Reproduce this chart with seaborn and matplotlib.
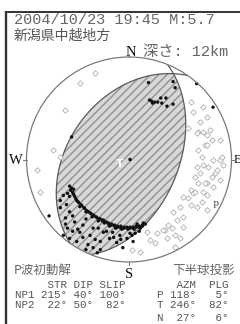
import matplotlib
matplotlib.use('Agg')
import matplotlib.pyplot as plt
from matplotlib.patches import Polygon, Circle
import numpy as np
import seaborn as sns

sns.set_style('white')
plt.rcParams['font.family'] = ['DejaVu Sans', 'Noto Sans CJK JP']
plt.rcParams['hatch.linewidth'] = 1.0

# 地震情報
date_text = "2004/10/23 19:45 M:5.7"
region_text = "新潟県中越地方"
depth_text = "深さ: 12km"

# 節面 (走向, 傾斜, すべり角)
plane_names = ['NP1', 'NP2']
plane_str = [215, 22]
plane_dip = [40, 50]
plane_slip = [100, 82]

# 主軸 (方位, 傾斜)
axis_names = ['P', 'T', 'N']
axis_azm = [118, 246, 27]
axis_plg = [5, 82, 6]

# 押し (黒) : 投影面上の位置 (半径 = 100)
push_e = [19, 45, 66, 82, 20, 22, 25, 23, 28, 31, 36, 37, 43, 32, 43, -56, -78, 1,
          -58, -56, -54, -55, -53, -51, -49, -46, -43, -40, -37, -34, -31, -28, -25,
          -22, -20, -17, -14, -11, -8, -5, -2, 1, 4, 7, 10, 13, 16,
          -48, -42, -36, -30, -24, -19, -13, -7, -1, 5, 11, -60, -58,
          -57, -54, -52, -50, -47, -44, -41, -38, -35, -32, -29, -26, -23, -20, -17,
          -14, -11, -8, -5, -2, 1, 4, 7, 10, 13,
          -67, -62, -58, -60, -53, -48, -45, -38, -35, -28, -25, -19, -16, -12, -9,
          -6, -2, 1, 4, -35, -40, -51, -64, -58, -31, -42, -28, 3, 8, 14,
          -67, -64, -61, -55, -50, -42, -30, -22, -15, -8, -33, -45, -55, -62, 6, 10]
push_n = [75, 70, 74, 51, 58, 57, 56, 55, 56, 60, 60, 52, 54, 55, 76, 22, -55, 0,
          -26, -28, -29, -32, -36, -40, -42, -45, -48, -51, -53, -55, -57, -58, -59,
          -61, -62, -63, -64, -65, -65, -66, -66, -66, -66, -65, -65, -64, -63,
          -46, -51, -56, -60, -62, -65, -67, -68, -68, -68, -67, -33, -36,
          -30, -34, -38, -41, -44, -47, -50, -52, -54, -56, -58, -60, -61, -63, -64,
          -65, -66, -67, -67, -67, -67, -67, -66, -66, -65,
          -47, -57, -51, -67, -61, -71, -64, -74, -67, -80, -71, -77, -71, -81, -74,
          -86, -77, -72, -80, -86, -83, -80, -74, -77, -91, -88, -88, -74, -63, -62,
          -40, -35, -44, -55, -68, -58, -67, -70, -76, -78, -78, -76, -70, -63, -72, -70]

# 引き (白) : 投影面上の位置 (半径 = 100)
pull_e = [67, 74, 71, 89, 92, 66, 72, 69, 64, 84, 67, 76, 60, 53, 58, 62, 76, 71,
          60, 66, 50, 43, 76, 53, 47, 38, 35, 42, 53, 45, 37, 27, 20, 25, 18, 50,
          60, 72, 62, 76, 69, 79, 76, 67, 81, 58, 89, 91, 82, 77, 86, 81, 89, 74,
          82, 64, 72, 66, 72, 76, -48, -33, -74, -67, -90, -87, -62, 45, 33, 3, 11]
pull_n = [9, 14, 2, 0, -5, -7, -5, -13, -17, -13, -23, -23, -30, -37, -38, -33, -35, -41,
          -44, -46, -46, -51, -49, -56, -59, -64, -69, -67, -66, -74, -77, -72, -79, -81, -71, -77,
          56, 51, 46, 41, 37, 29, 24, 27, 19, 31, 19, 2, 0, -7, -10, -17, -20, -23,
          -27, -32, -32, 26, 27, 14, 75, 84, 9, 2, -10, -32, 48, -85, -69, -88, -90]


def unit(az, pl):
    a, p = np.radians(az), np.radians(pl)
    return np.array([np.cos(p) * np.sin(a), np.cos(p) * np.cos(a), np.sin(p)])


def project(v):
    v = np.atleast_2d(v).astype(float)
    v = np.where(v[:, 2:3] < 0, -v, v)
    pl = np.arcsin(np.clip(v[:, 2], -1, 1))
    az = np.arctan2(v[:, 0], v[:, 1])
    r = 100 * np.sqrt(2) * np.sin((np.pi / 2 - pl) / 2)
    return r * np.sin(az), r * np.cos(az)


def plane_vecs(strike, dip):
    return unit(strike, 0), unit(strike + 90, dip)


def arc(strike, dip, t0, t1, n=150):
    s, d = plane_vecs(strike, dip)
    t = np.linspace(t0, t1, n)
    v = np.outer(np.cos(t), s) + np.outer(np.sin(t), d)
    return project(v)


fig = plt.figure(figsize=(2.4, 3.24), dpi=100)

# 枠と文字 (ピクセル座標)
bg = fig.add_axes([0, 0, 1, 1])
bg.set_xlim(0, 240)
bg.set_ylim(324, 0)
bg.axis('off')
bg.plot([6.2, 6.2], [11, 324], color='#333333', lw=1.7, solid_capstyle='butt')
bg.plot([5, 240], [11.8, 11.8], color='#333333', lw=1.4, solid_capstyle='butt')

gray = '#666666'
mono = ['Liberation Mono', 'Noto Sans CJK JP']
cjk = ['Noto Sans CJK JP', 'DejaVu Sans']
serif = ['Liberation Serif', 'DejaVu Serif']

bg.text(14, 20.5, date_text, family=mono, fontsize=11, color=gray, va='center')
bg.text(14, 35.5, region_text, family=cjk, fontsize=10, color='#555555', va='center')
bg.text(143, 52, depth_text, family=mono, fontsize=11, color=gray, va='center')
bg.text(131, 52, 'N', family=serif, fontsize=10.5, color='#111111', ha='center', va='center')
bg.text(16, 160, 'W', family=serif, fontsize=10.5, color='#111111', ha='center', va='center')
bg.text(233.5, 160, 'E', family=serif, fontsize=9, color='#111111', ha='left', va='center')
bg.text(129, 274, 'S', family=serif, fontsize=10.5, color='#111111', ha='center', va='center')
bg.text(14, 270, 'P波初動解', family=cjk, fontsize=9, color=gray, va='center')
bg.text(172, 270, '下半球投影', family=cjk, fontsize=9, color=gray, va='center')

left_rows = ['     STR DIP SLIP'] + [
    f"{nm} {s:3d}° {d:2d}° {r:3d}°"
    for nm, s, d, r in zip(plane_names, plane_str, plane_dip, plane_slip)]
right_rows = ['   AZM  PLG'] + [
    f"{nm} {a:3d}°  {p:2d}°" for nm, a, p in zip(axis_names, axis_azm, axis_plg)]
row_y = [285, 294.5, 304.5, 318]
for y, txt in zip(row_y, left_rows):
    bg.text(15, y, txt, family=mono, fontsize=7.8, color='#555555', va='center')
for y, txt in zip(row_y, right_rows):
    bg.text(157, y, txt, family=mono, fontsize=7.8, color='#555555', va='center')

# 震源球
ax = fig.add_axes([26.5 / 240, 1 - 262 / 324, 205 / 240, 205 / 324])
ax.set_xlim(-100, 100)
ax.set_ylim(-100, 100)
ax.axis('off')
ax.patch.set_alpha(0)

s1, d1 = plane_vecs(plane_str[0], plane_dip[0])
s2, d2 = plane_vecs(plane_str[1], plane_dip[1])
b = np.cross(np.cross(s1, d1), np.cross(s2, d2))
if b[2] < 0:
    b = -b
tb1 = np.arctan2(b @ d1, b @ s1)
tb2 = np.arctan2(b @ d2, b @ s2)

x1, y1 = arc(plane_str[0], plane_dip[0], 0, tb1)
x2, y2 = arc(plane_str[1], plane_dip[1], tb2, np.pi)
rim = np.radians(np.linspace(plane_str[1] + 180, plane_str[0], 20))
lens_x = np.concatenate([x1, x2, 100 * np.sin(rim)])
lens_y = np.concatenate([y1, y2, 100 * np.cos(rim)])
ax.add_patch(Polygon(np.column_stack([lens_x, lens_y]), closed=True,
                     facecolor='#d8d8d8', edgecolor='#909090', hatch='////',
                     linewidth=0, zorder=1))

for st, dp in zip(plane_str, plane_dip):
    gx, gy = arc(st, dp, 0, np.pi)
    ax.plot(gx, gy, color='#5a5a5a', lw=0.9, zorder=2)

ax.add_patch(Circle((0, 0), 100, fill=False, edgecolor='#7a7a7a', lw=0.9,
                    clip_on=False, zorder=5))
for az in [0, 90, 180, 270]:
    a = np.radians(az)
    ax.plot([100 * np.sin(a), 103 * np.sin(a)], [100 * np.cos(a), 103 * np.cos(a)],
            color='#7a7a7a', lw=0.8, clip_on=False, zorder=5)

sns.scatterplot(x=pull_e, y=pull_n, marker='D', s=8, color='white',
                edgecolor='#b0b0b0', linewidth=0.6, ax=ax, zorder=3, legend=False)
sns.scatterplot(x=push_e, y=push_n, marker='o', s=6, color='#111111',
                edgecolor='none', linewidth=0, ax=ax, zorder=4, legend=False)

tx, ty = project(unit(axis_azm[1], axis_plg[1]))
ax.text(tx[0], ty[0], 'T', color='white', fontsize=8, fontweight='bold',
        ha='center', va='center', zorder=6)
px, py = project(unit(axis_azm[0], axis_plg[0]))
ax.text(px[0], py[0], 'P', family=serif, color='#555555', fontsize=8,
        ha='center', va='center', zorder=6)

fig.savefig('out.png', dpi=100)
